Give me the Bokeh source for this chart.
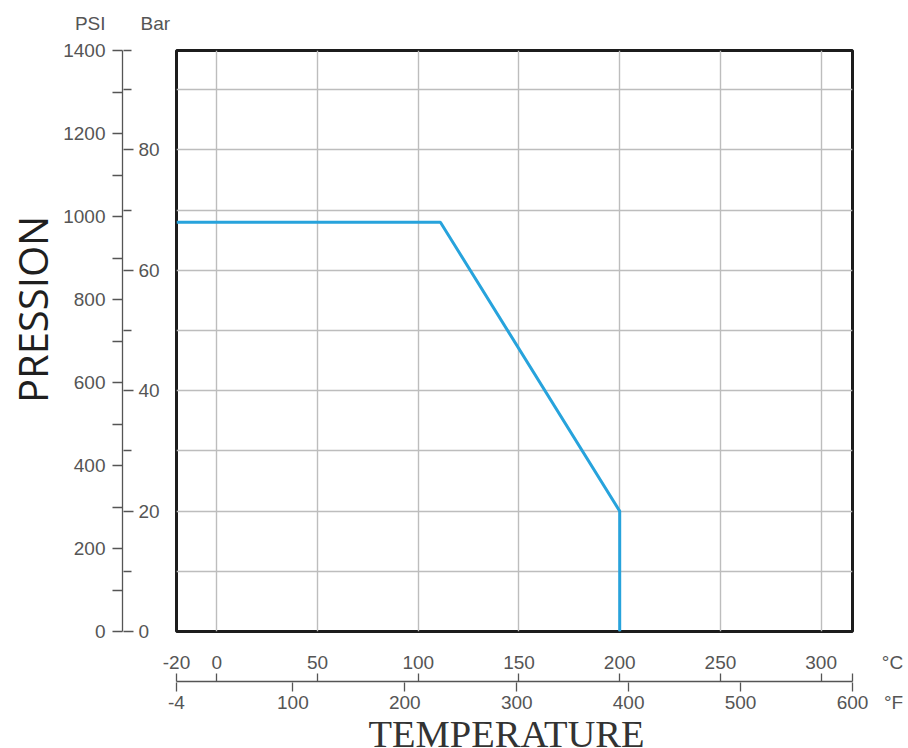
import math
from bokeh.plotting import figure
from bokeh.models import Range1d, LinearAxis, FixedTicker, Label, CustomJSTickFormatter
from bokeh.layouts import column, row
from bokeh.embed import file_html
from bokeh.resources import INLINE

# ---------------- data ----------------
TEMP_C = [-20, 111, 200, 200]          # rating curve, temperature (°C)
PRESS_BAR = [68, 68, 20, 0]            # rating curve, pressure (bar)

PSI_MAJOR = [0, 200, 400, 600, 800, 1000, 1200, 1400]
PSI_MINOR = [100, 300, 500, 700, 900, 1100, 1300]
BAR_MAJOR = [0, 20, 40, 60, 80]
BAR_MINOR = [10, 30, 50, 70, 90]
BAR_GRID = [10, 20, 30, 40, 50, 60, 70, 80, 90]
C_TICKS = [-20, 0, 50, 100, 150, 200, 250, 300]
C_GRID = [0, 50, 100, 150, 200, 250, 300]
F_TICKS = [-4, 100, 200, 300, 400, 500, 600]

PSI_MAX = 1400
F_MIN, F_MAX = -4, 600
PSI_PER_BAR = 14.5038


def f_to_c(f):
    return (f - 32) * 5 / 9


def c_to_f(c):
    return c * 9 / 5 + 32


C_MIN, C_MAX = f_to_c(F_MIN), f_to_c(F_MAX)
BAR_MAX = PSI_MAX / PSI_PER_BAR

# ---------------- styles / layout sizes ----------------
AX = "#555555"
TICK_FONT = "Liberation Sans"
TICK_SIZE = "19px"

TOTAL_W = 904
HEAD_H = 36
ROW_H = 609
ROW_TOP, ROW_BOTTOM = 14, 14
BOT_TOP, BOT_BOTTOM = 36, 38
BOT_H = BOT_TOP + 1 + BOT_BOTTOM
FOOT_H = 27
P_W, L_W = 60, 112
M_W = TOTAL_W - P_W - L_W
FRAME_LEFT = 176            # left edge of the plot box
FRAME_W = 676               # width of the plot box
B_FRAME_W = TOTAL_W - FRAME_LEFT
PX_PER_C = FRAME_W / (C_MAX - C_MIN)
C_RIGHT = C_MIN + B_FRAME_W / PX_PER_C                 # temperature at right edge of the page
C_UNIT_POS = C_MIN + (892 - FRAME_LEFT) / PX_PER_C     # where the °C symbol sits
F_UNIT_POS = c_to_f(C_MIN + (893 - FRAME_LEFT) / PX_PER_C)

COMMON = dict(x_axis_location=None, y_axis_location=None, toolbar_location=None,
              output_backend="svg", frame_align=False)


def style_axis(ax, line=True, tick_out=10, minor_out=8, standoff=5, tick_in=0):
    ax.axis_line_color = AX if line else None
    ax.axis_line_width = 1.3
    ax.major_tick_line_color = AX
    ax.minor_tick_line_color = AX
    ax.major_tick_line_width = 1.3
    ax.minor_tick_line_width = 1.3
    ax.major_tick_out = tick_out
    ax.major_tick_in = tick_in
    ax.minor_tick_out = minor_out
    ax.minor_tick_in = tick_in
    ax.major_label_standoff = standoff
    ax.major_label_text_font = TICK_FONT
    ax.major_label_text_font_size = TICK_SIZE
    ax.major_label_text_color = AX
    ax.formatter = CustomJSTickFormatter(code="return String(tick)")


def unit_formatter(limit, unit):
    return CustomJSTickFormatter(args=dict(limit=limit, unit=unit),
                                 code="return tick > limit + 1e-6 ? unit : String(tick)")


def text_panel(w, h, top=0, bottom=0):
    f = figure(width=w, height=h, x_range=Range1d(0, w), y_range=Range1d(0, h - top - bottom),
               min_border_left=0, min_border_right=0, min_border_top=top,
               min_border_bottom=bottom, **COMMON)
    f.outline_line_color = None
    f.grid.visible = False
    return f


# ---------------- header: unit names ----------------
H = text_panel(TOTAL_W, HEAD_H)
H.add_layout(Label(x=105, y=13, text="PSI", text_align="right", text_baseline="middle",
                   text_font=TICK_FONT, text_font_size=TICK_SIZE, text_color=AX))
H.add_layout(Label(x=140, y=13, text="Bar", text_align="left", text_baseline="middle",
                   text_font=TICK_FONT, text_font_size=TICK_SIZE, text_color=AX))

# ---------------- vertical title ----------------
P = text_panel(P_W, ROW_H, ROW_TOP, ROW_BOTTOM)
P.add_layout(Label(x=32, y=322, text="PRESSION", angle=math.pi / 2,
                   text_align="center", text_baseline="middle",
                   text_font="Open Sans", text_font_size="40px", text_color="#1f1f1f"))

# ---------------- left detached axis (PSI | Bar) ----------------
L = figure(width=L_W, height=ROW_H, x_range=Range1d(0, 1), y_range=Range1d(0, PSI_MAX),
           min_border_left=62, min_border_right=49,
           min_border_top=ROW_TOP, min_border_bottom=ROW_BOTTOM, **COMMON)
L.outline_line_color = None
L.grid.visible = False
L.extra_y_ranges = {"bar": Range1d(0, BAR_MAX)}

psi_axis = LinearAxis(ticker=FixedTicker(ticks=PSI_MAJOR, minor_ticks=PSI_MINOR))
style_axis(psi_axis, line=True, tick_out=10, minor_out=10, standoff=7)
L.add_layout(psi_axis, "left")

bar_axis = LinearAxis(y_range_name="bar",
                      ticker=FixedTicker(ticks=BAR_MAJOR, minor_ticks=BAR_MINOR + [BAR_MAX]))
style_axis(bar_axis, line=False, tick_out=10, minor_out=8, standoff=5)
L.add_layout(bar_axis, "right")

# ---------------- main plot ----------------
M = figure(width=M_W, height=ROW_H, x_range=Range1d(C_MIN, C_MAX), y_range=Range1d(0, BAR_MAX),
           min_border_left=4, min_border_right=M_W - 4 - FRAME_W,
           min_border_top=ROW_TOP, min_border_bottom=ROW_BOTTOM, **COMMON)
M.outline_line_color = "#1c1c1c"
M.outline_line_width = 3
M.xgrid.ticker = FixedTicker(ticks=C_GRID)
M.ygrid.ticker = FixedTicker(ticks=BAR_GRID)
M.grid.grid_line_color = "#bdbdbd"
M.grid.grid_line_width = 1.4
M.line(TEMP_C, PRESS_BAR, line_color="#27a3dc", line_width=3)

# ---------------- bottom detached axis (°C | °F) ----------------
B = figure(width=TOTAL_W, height=BOT_H, x_range=Range1d(C_MIN, C_RIGHT), y_range=Range1d(0, 1),
           min_border_left=FRAME_LEFT, min_border_right=0,
           min_border_top=BOT_TOP, min_border_bottom=BOT_BOTTOM, **COMMON)
B.outline_line_color = None
B.grid.visible = False
B.extra_x_ranges = {"F": Range1d(F_MIN, c_to_f(C_RIGHT))}

# the shared scale line: a bare axis limited to the temperature range
scale_line = LinearAxis(ticker=FixedTicker(ticks=[]), bounds=(C_MIN, C_MAX))
style_axis(scale_line, line=True, tick_out=0, minor_out=0, standoff=0)
B.add_layout(scale_line, "above")

# labels come from the major ticks (marks hidden), marks come from the minor ticks
c_axis = LinearAxis(ticker=FixedTicker(ticks=C_TICKS + [C_UNIT_POS], minor_ticks=C_TICKS + [C_MAX]))
style_axis(c_axis, line=False, tick_out=8, minor_out=8, standoff=1)
c_axis.major_tick_line_color = None
c_axis.formatter = unit_formatter(C_MAX, "°C")
B.add_layout(c_axis, "above")

f_axis = LinearAxis(x_range_name="F", ticker=FixedTicker(ticks=F_TICKS + [F_UNIT_POS], minor_ticks=F_TICKS))
style_axis(f_axis, line=False, tick_out=9, minor_out=9, standoff=0)
f_axis.major_tick_line_color = None
f_axis.formatter = unit_formatter(F_MAX, "°F")
B.add_layout(f_axis, "below")

# ---------------- footer title ----------------
T = text_panel(TOTAL_W, FOOT_H)
T.add_layout(Label(x=506, y=13.5, text="TEMPERATURE", text_align="center", text_baseline="middle",
                   text_font="Liberation Serif", text_font_size="38.5px", text_color="#333333"))

layout = column(H, row(P, L, M), B, T)

open("out.html", "w").write(file_html(layout, INLINE))
